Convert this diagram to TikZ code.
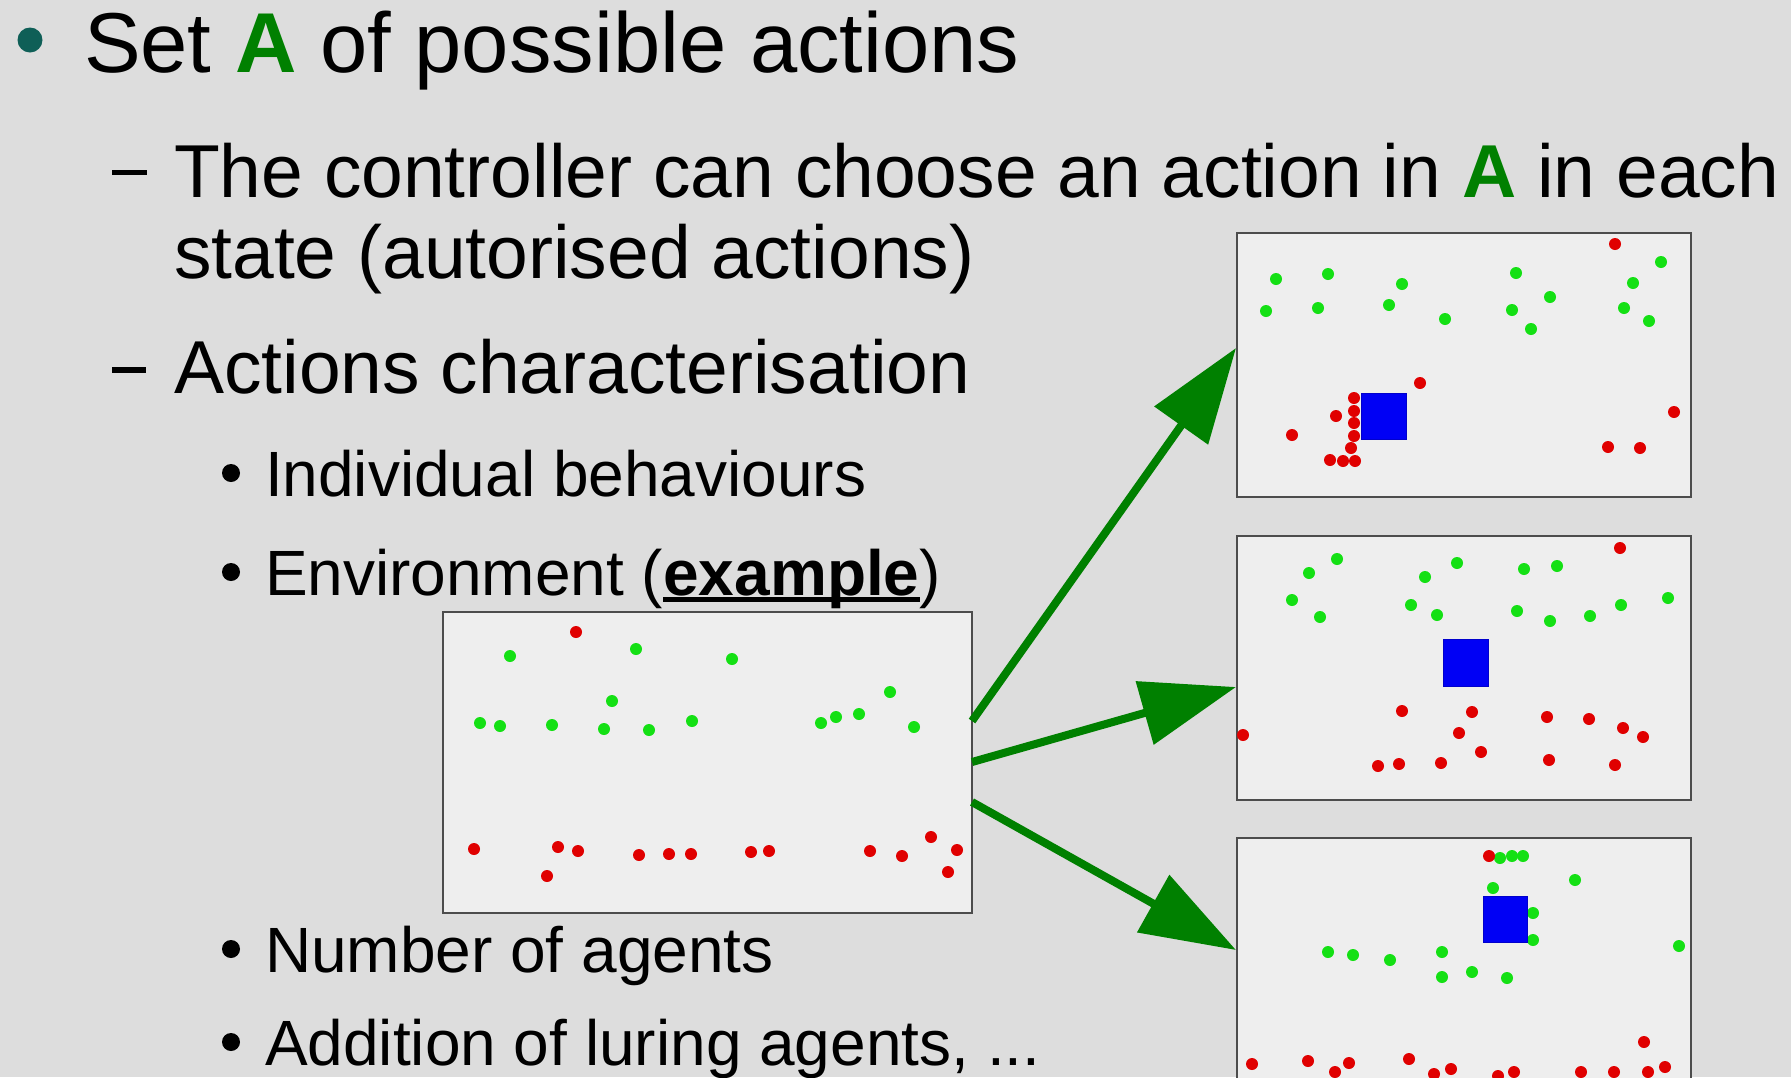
\documentclass[tikz,border=0pt]{standalone}
\usepackage{fontspec}
\setmainfont{Liberation Sans}
\usetikzlibrary{arrows.meta}
\definecolor{bgc}{HTML}{DDDDDD}
\definecolor{panelbg}{HTML}{EEEEEE}
\definecolor{agreen}{HTML}{008000}
\definecolor{dotg}{HTML}{14E014}
\definecolor{dotr}{HTML}{E00000}
\definecolor{tealb}{HTML}{0F5F57}
\definecolor{sqblue}{HTML}{0000F5}
\newcommand\myul[1]{\setbox0=\hbox{#1}\rlap{\rule[-3.4pt]{\wd0}{2.2pt}}\box0}
\begin{document}
\begin{tikzpicture}[x=0.5pt,y=-0.5pt,
  txt/.style={anchor=base west, inner sep=0pt, outer sep=0pt, text=black},
  lvlone/.style={txt, font=\fontsize{42.5pt}{50pt}\selectfont},
  lvltwo/.style={txt, font=\fontsize{37.5pt}{45pt}\selectfont},
  lvlthree/.style={txt, font=\fontsize{32pt}{38pt}\selectfont},
  panel/.style={draw=black!70, line width=1pt, fill=panelbg, inner sep=0pt, outer sep=0pt,
    minimum width=227pt, minimum height=132pt},
  sq/.style={fill=sqblue, draw=blue!80!black, line width=0.4pt},
  arr/.style={draw=agreen, line width=4pt, -{Triangle[length=47.5pt,width=32pt]}},
]
\useasboundingbox (0,0) rectangle (1791,1077);
\clip (0,0) rectangle (1791,1077);
\fill[bgc] (0,0) rectangle (1791,1077);

% ---- text ----
\fill[tealb] (30,40) circle[radius=6.25pt];
\node[lvlone] (l1) at (84,72) {Set \textcolor{agreen}{\textbf{A}} of possible actions};
\fill (112,170) rectangle (147,175);
\node[lvltwo] (l2) at (174,197) {The controller can choose an action in \textcolor{agreen}{\textbf{A}} in each};
\node[lvltwo] (l3) at (174,278) {state (autorised actions)};
\fill (112,367) rectangle (146,373);
\node[lvltwo] (l4) at (174,393) {Actions characterisation};
\fill (231,473) circle[radius=4.5pt];
\node[lvlthree] (l5) at (265,496) {Individual behaviours};
\fill (231,572) circle[radius=4.5pt];
\node[lvlthree] (l6) at (265,595) {Environment (\myul{\textbf{example}})};
\fill (231,949) circle[radius=4.5pt];
\node[lvlthree] (l7) at (265,972) {Number of agents};
\fill (231,1042) circle[radius=4.5pt];
\node[lvlthree] (l8) at (265,1065) {Addition of luring agents, ...};

% ---- panels ----
\node[panel, minimum width=264.5pt, minimum height=150.5pt] (main) at (707.5,762.5) {};
\node[panel] (pa) at (1464,365) {};
\node[panel] (pb) at (1464,668) {};
\node[panel] (pc) at (1464,970) {};

% main panel dots
\foreach \x/\y in {510/656,636/649,732/659,612/701,480/723,500/726,552/725,604/729,649/730,692/721,821/723,836/717,859/714,890/692,914/727}
  \fill[dotg] (\x,\y) circle[radius=3pt];
\foreach \x/\y in {576/632,474/849,558/847,578/851,547/876,639/855,669/854,691/854,751/852,769/851,870/851,902/856,931/837,957/850,948/872}
  \fill[dotr] (\x,\y) circle[radius=3pt];

% panel a
\foreach \x/\y in {1276/279,1328/274,1402/284,1266/311,1318/308,1389/305,1445/319,1516/273,1550/297,1512/310,1531/329,1661/262,1633/283,1624/308,1649/321}
  \fill[dotg] (\x,\y) circle[radius=3pt];
\foreach \x/\y in {1615/244,1420/383,1354/398,1354/411,1354/423,1354/436,1351/448,1330/460,1343/461,1355/461,1336/416,1292/435,1674/412,1608/447,1640/448}
  \fill[dotr] (\x,\y) circle[radius=3pt];
\draw[sq] (1361,393) rectangle (1406,439);

% panel b
\foreach \x/\y in {1337/559,1309/573,1292/600,1320/617,1425/577,1457/563,1411/605,1437/615,1524/569,1557/566,1517/611,1550/621,1590/616,1621/605,1668/598}
  \fill[dotg] (\x,\y) circle[radius=3pt];
\foreach \x/\y in {1620/548,1243/735,1402/711,1472/712,1459/733,1481/752,1378/766,1399/764,1441/763,1547/717,1589/719,1623/728,1643/737,1549/760,1615/765}
  \fill[dotr] (\x,\y) circle[radius=3pt];
\draw[sq] (1443,639) rectangle (1488,686);

% panel c
\foreach \x/\y in {1500/858,1512/856,1523/856,1493/888,1575/880,1533/913,1533/940,1679/946,1328/952,1353/955,1390/960,1442/952,1442/977,1472/972,1507/978}
  \fill[dotg] (\x,\y) circle[radius=3pt];
\foreach \x/\y in {1489/856,1252/1064,1308/1061,1335/1072,1349/1063,1409/1059,1434/1074,1451/1069,1498/1076,1514/1072,1581/1072,1614/1072,1644/1042,1648/1072,1665/1067}
  \fill[dotr] (\x,\y) circle[radius=3pt];
\draw[sq] (1483,896) rectangle (1527,942);

% ---- arrows ----
\coordinate (s1) at (972,721);
\coordinate (s2) at (972,762);
\coordinate (s3) at (972,802);
\coordinate (e1) at (1236,348);
\coordinate (e2) at (1236,687);
\coordinate (e3) at (1236,950);
\draw[arr] (s1) -- (e1);
\draw[arr] (s2) -- (e2);
\draw[arr] (s3) -- (e3);
\end{tikzpicture}
\end{document}
